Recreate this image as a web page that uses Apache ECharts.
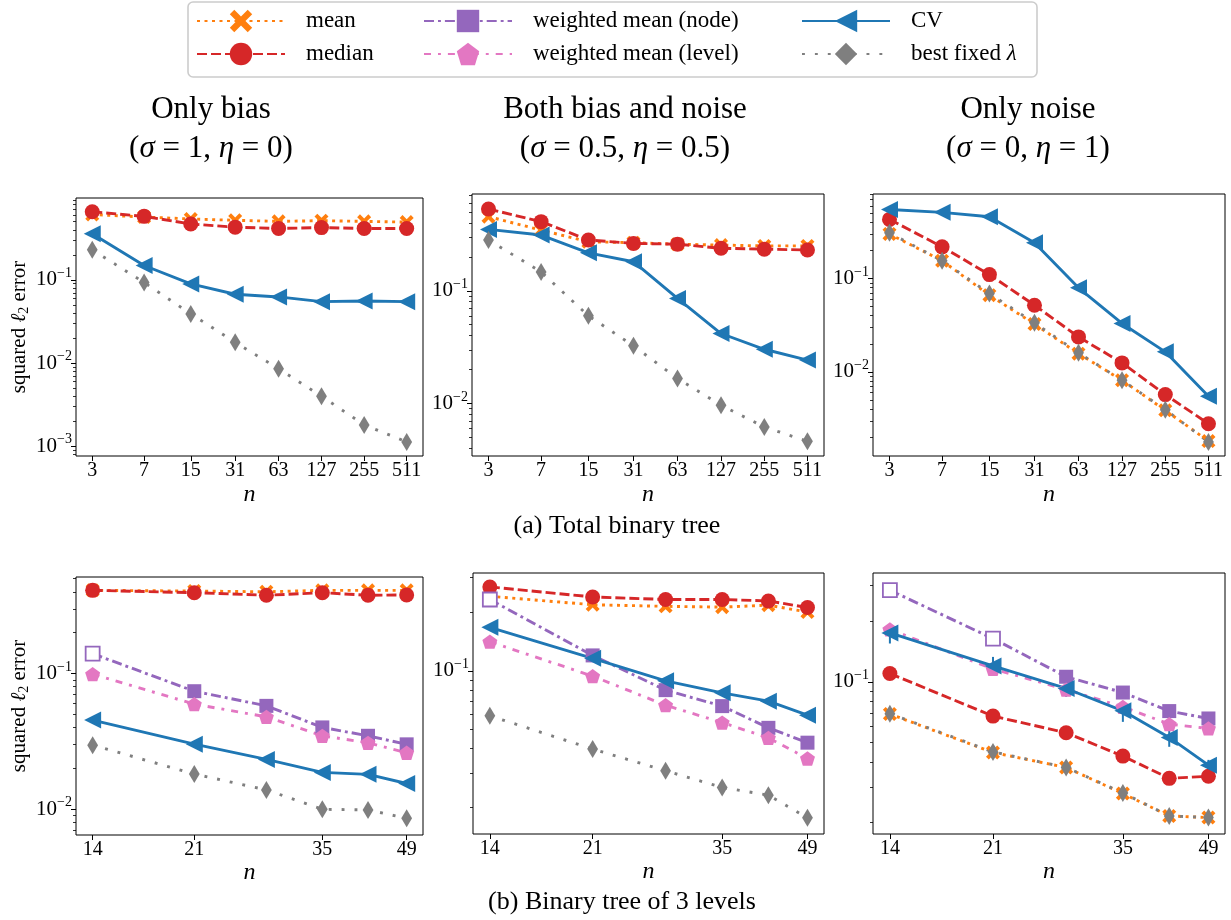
<!DOCTYPE html>
<html><head><meta charset="utf-8">
<script src="https://cdn.jsdelivr.net/npm/echarts@6/dist/echarts.min.js"></script>
<style>html,body{margin:0;padding:0;background:#fff}#c{width:1231px;height:920px}</style>
</head><body><div id="c"></div>
<script>
// ---------- data ----------
const nTop = [3, 7, 15, 31, 63, 127, 255, 511];
const nBottom = [14, 21, 28, 35, 42, 49];
const xTickLabelsTop = [3, 7, 15, 31, 63, 127, 255, 511];
const xTickLabelsBottom = [14, 21, 35, 49];

// (a) Total binary tree — only bias
const a1Mean   = [0.61, 0.57, 0.54, 0.52, 0.505, 0.515, 0.505, 0.495];
const a1Median = [0.66, 0.58, 0.47, 0.43, 0.415, 0.425, 0.415, 0.415];
const a1CV     = [0.358, 0.149, 0.0895, 0.0672, 0.0624, 0.0548, 0.0558, 0.0548];
const a1Best   = [0.23, 0.093, 0.039, 0.0178, 0.00855, 0.0040, 0.00181, 0.00113];
// (a) both bias and noise
const a2Mean   = [0.454, 0.345, 0.272, 0.267, 0.259, 0.254, 0.25, 0.25];
const a2Median = [0.531, 0.41, 0.282, 0.263, 0.259, 0.238, 0.234, 0.23];
const a2CV     = [0.35, 0.312, 0.217, 0.181, 0.0855, 0.0418, 0.0303, 0.0243];
const a2Best   = [0.282, 0.147, 0.06, 0.0325, 0.0167, 0.00967, 0.0062, 0.00463];
// (a) only noise
const a3Mean   = [0.299, 0.155, 0.0663, 0.0325, 0.0157, 0.00815, 0.00388, 0.00182];
const a3Median = [0.429, 0.218, 0.11, 0.0518, 0.0237, 0.0125, 0.00572, 0.00279];
const a3CV     = [0.548, 0.51, 0.458, 0.241, 0.0794, 0.033, 0.0164, 0.00548];
const a3Best   = [0.308, 0.155, 0.069, 0.0335, 0.016, 0.00815, 0.00395, 0.00178];

// (b) Binary tree of 3 levels — only bias
const b1Mean   = [0.41, 0.405, 0.40, 0.41, 0.41, 0.41];
const b1Median = [0.41, 0.394, 0.377, 0.394, 0.377, 0.379];
const b1Node   = [0.14, 0.0741, 0.0578, 0.0401, 0.0348, 0.0301];
const b1Level  = [0.0989, 0.0595, 0.048, 0.0348, 0.0309, 0.0261];
const b1CV     = [0.0454, 0.0302, 0.0233, 0.0187, 0.0181, 0.0155];
const b1Best   = [0.0297, 0.0182, 0.0139, 0.0100, 0.0099, 0.0086];
// (b) both
const b2Mean   = [0.241, 0.218, 0.214, 0.212, 0.217, 0.2];
const b2Median = [0.269, 0.239, 0.232, 0.232, 0.228, 0.211];
const b2Node   = [0.232, 0.120, 0.0797, 0.066, 0.0511, 0.0429];
const b2Level  = [0.141, 0.094, 0.0667, 0.0544, 0.0454, 0.0356];
const b2CV     = [0.167, 0.116, 0.0889, 0.0772, 0.07, 0.0593];
const b2Best   = [0.0589, 0.0398, 0.0308, 0.0253, 0.0231, 0.0177];
// (b) only noise
const b3Mean   = [0.0692, 0.0446, 0.0376, 0.0279, 0.0216, 0.0212];
const b3Median = [0.11, 0.0676, 0.0559, 0.0428, 0.0332, 0.034];
const b3Node   = [0.285, 0.164, 0.106, 0.0885, 0.0716, 0.0658];
const b3Level  = [0.182, 0.116, 0.0916, 0.0751, 0.0617, 0.0587];
const b3CV     = [0.175, 0.12, 0.0927, 0.0718, 0.053, 0.0386];
const b3Best   = [0.0695, 0.0449, 0.0376, 0.0281, 0.0216, 0.0212];
// CV error bars (only noise, 3 levels)
const b3CVLow  = [0.155, 0.108, 0.0843, 0.0633, 0.0476, 0.0365];
const b3CVHigh = [0.191, 0.133, 0.098, 0.078, 0.0576, 0.041];

// points of the node series drawn hollow
const b1NodeHollow = [0];
const b2NodeHollow = [0];
const b3NodeHollow = [0, 1];

const seriesNames = ['mean', 'median', 'weighted mean (node)', 'weighted mean (level)', 'CV', 'best fixed λ'];
const titleLines = [
  ['Only bias', ['1', '0']],
  ['Both bias and noise', ['0.5', '0.5']],
  ['Only noise', ['0', '1']]
];
const captionA = '(a) Total binary tree';
const captionB = '(b) Binary tree of 3 levels';

// ---------- styling ----------
const FONT = '"Liberation Serif", "DejaVu Serif", serif';
const X_PATH = 'path://M0,2 L2,0 L5,3 L8,0 L10,2 L7,5 L10,8 L8,10 L5,7 L2,10 L0,8 L3,5 Z';
const PENT = 'path://M5,0 L10,3.63 L8.09,9.51 L1.91,9.51 L0,3.63 Z';
const TRI = 'path://M0,5 L10,0 L10,10 Z';
const DIAM = 'path://M3,0 L6,5 L3,10 L0,5 Z';
const LW = 2.9;
const styles = {
  'mean': {color: '#ff7f0e', symbol: X_PATH, size: 14, dash: [3, 4.5]},
  'median': {color: '#d62728', symbol: 'circle', size: 15, dash: [10, 4]},
  'weighted mean (node)': {color: '#9467bd', symbol: 'rect', size: 14, dash: [10, 4, 2.9, 4]},
  'weighted mean (level)': {color: '#e377c2', symbol: PENT, size: 15, dash: [7, 7, 2.9, 7]},
  'CV': {color: '#1f77b4', symbol: TRI, size: 17, dash: 'solid'},
  'best fixed λ': {color: '#7f7f7f', symbol: DIAM, size: 18, dash: [2.9, 10]}
};

const panels = [
  {grid: {left: 76, top: 198, width: 347, height: 258}, xr: [2.3, 667], yr: [7.65e-4, 0.964], n: nTop, xt: xTickLabelsTop, ylab: true, nameGap: 27,
   s: {'mean': a1Mean, 'median': a1Median, 'CV': a1CV, 'best fixed λ': a1Best}},
  {grid: {left: 472, top: 194, width: 352, height: 262}, xr: [2.3, 667], yr: [0.00343, 0.721], n: nTop, xt: xTickLabelsTop, nameGap: 27,
   s: {'mean': a2Mean, 'median': a2Median, 'CV': a2CV, 'best fixed λ': a2Best}},
  {grid: {left: 873, top: 194, width: 352, height: 262}, xr: [2.3, 667], yr: [0.00126, 0.802], n: nTop, xt: xTickLabelsTop, nameGap: 27,
   s: {'mean': a3Mean, 'median': a3Median, 'CV': a3CV, 'best fixed λ': a3Best}},
  {grid: {left: 76, top: 577, width: 347, height: 258}, xr: [13.1, 52.3], yr: [0.00647, 0.514], n: nBottom, xt: xTickLabelsBottom, ylab: true, nameGap: 25, hollow: b1NodeHollow,
   s: {'mean': b1Mean, 'median': b1Median, 'weighted mean (node)': b1Node, 'weighted mean (level)': b1Level, 'CV': b1CV, 'best fixed λ': b1Best}},
  {grid: {left: 473, top: 573, width: 351, height: 261}, xr: [13.1, 52.3], yr: [0.01462, 0.317], n: nBottom, xt: xTickLabelsBottom, nameGap: 25, hollow: b2NodeHollow,
   s: {'mean': b2Mean, 'median': b2Median, 'weighted mean (node)': b2Node, 'weighted mean (level)': b2Level, 'CV': b2CV, 'best fixed λ': b2Best}},
  {grid: {left: 873, top: 573, width: 352, height: 261}, xr: [13.1, 52.3], yr: [0.01757, 0.347], n: nBottom, xt: xTickLabelsBottom, nameGap: 25, hollow: b3NodeHollow,
   err: [b3CVLow, b3CVHigh],
   s: {'mean': b3Mean, 'median': b3Median, 'weighted mean (node)': b3Node, 'weighted mean (level)': b3Level, 'CV': b3CV, 'best fixed λ': b3Best}}
];

const grids = [], xAxes = [], yAxes = [], series = [];
const lg = Math.log10;
panels.forEach((p, i) => {
  grids.push(Object.assign({show: true, borderColor: '#000', borderWidth: 1, backgroundColor: 'transparent', containLabel: false}, p.grid));
  // data axes (log scale)
  xAxes.push({type: 'log', gridIndex: i, position: 'bottom', min: p.xr[0], max: p.xr[1], show: false});
  const xt = p.xt.map(lg);
  xAxes.push({
    type: 'value', gridIndex: i, position: 'bottom', min: lg(p.xr[0]), max: lg(p.xr[1]),
    axisLine: {show: false}, splitLine: {show: false},
    axisTick: {show: true, customValues: xt, length: 5, lineStyle: {color: '#000', width: 1}},
    axisLabel: {show: true, customValues: xt, margin: 5, fontSize: 20, fontFamily: FONT, color: '#000',
      formatter: v => String(Math.round(Math.pow(10, v)))},
    name: 'n', nameLocation: 'middle', nameGap: p.nameGap,
    nameTextStyle: {fontFamily: FONT, fontStyle: 'italic', fontSize: 24, color: '#000'}
  });
  yAxes.push({type: 'log', gridIndex: i, position: 'left', min: p.yr[0], max: p.yr[1], show: false});
  const d0 = Math.ceil(lg(p.yr[0]) - 1e-9), d1 = Math.floor(lg(p.yr[1]) + 1e-9);
  const decades = [];
  for (let d = d0; d <= d1; d++) decades.push(d);
  const minors = [];
  for (let d = Math.floor(lg(p.yr[0])); d <= d1; d++) {
    for (let k = 2; k <= 9; k++) {
      const v = k * Math.pow(10, d);
      if (v >= p.yr[0] && v <= p.yr[1]) minors.push(lg(v));
    }
  }
  const major = {
    type: 'value', gridIndex: i, position: 'left', min: lg(p.yr[0]), max: lg(p.yr[1]),
    axisLine: {show: false}, splitLine: {show: false},
    axisTick: {show: true, customValues: decades, length: 5, lineStyle: {color: '#000', width: 1}},
    axisLabel: {show: true, customValues: decades, margin: 4,
      formatter: v => '{b|10}{s|−' + Math.round(-v) + '}',
      rich: {b: {fontSize: 21, fontFamily: FONT, color: '#000'},
             s: {fontSize: 14, fontFamily: FONT, color: '#000', padding: [0, 0, 13, 0]}}}
  };
  if (p.ylab) {
    Object.assign(major, {
      name: '{a|squared }{l|ℓ}{s|2}{a| error}', nameLocation: 'middle', nameGap: 45, nameRotate: 90,
      nameTextStyle: {color: '#000', rich: {
        a: {fontSize: 21, fontFamily: FONT, color: '#000'},
        l: {fontSize: 21, fontFamily: FONT, fontStyle: 'italic', color: '#000'},
        s: {fontSize: 14, fontFamily: FONT, color: '#000', padding: [10, 0, 0, 0]}}}
    });
  }
  yAxes.push(major);
  yAxes.push({
    type: 'value', gridIndex: i, position: 'left', min: lg(p.yr[0]), max: lg(p.yr[1]),
    axisLine: {show: false}, splitLine: {show: false},
    axisTick: {show: true, customValues: minors, length: 3, lineStyle: {color: '#000', width: 0.8}},
    axisLabel: {show: false}
  });
  seriesNames.forEach(name => {
    const vals = p.s[name];
    if (!vals) return;
    const st = styles[name];
    const hollow = (name === 'weighted mean (node)' && p.hollow) ? p.hollow : [];
    series.push({
      type: 'line', name, xAxisIndex: 2 * i, yAxisIndex: 3 * i,
      data: p.n.map((x, j) => hollow.indexOf(j) >= 0
        ? {value: [x, vals[j]], itemStyle: {color: '#fff', borderColor: st.color, borderWidth: 1.8}}
        : [x, vals[j]]),
      symbol: st.symbol, symbolSize: st.size, symbolKeepAspect: true, showSymbol: true,
      lineStyle: {color: st.color, width: LW, type: st.dash},
      itemStyle: {color: st.color, borderWidth: 0},
      emphasis: {disabled: true}, clip: false, animation: false
    });
    if (name === 'CV' && p.err) {
      series.push({
        type: 'custom', name: 'CV error', xAxisIndex: 2 * i, yAxisIndex: 3 * i, z: 3,
        data: p.n.map((x, j) => [x, p.err[0][j], p.err[1][j]]),
        renderItem: (params, api) => {
          const a = api.coord([api.value(0), api.value(1)]);
          const b = api.coord([api.value(0), api.value(2)]);
          return {type: 'line', shape: {x1: a[0], y1: a[1], x2: b[0], y2: b[1]}, style: {stroke: styles['CV'].color, lineWidth: 2}};
        },
        silent: true, animation: false
      });
    }
  });
});

const legendBase = {
  orient: 'vertical', top: 7, itemWidth: 88, itemHeight: 28, itemGap: 5, padding: 0, selectedMode: false, z: 10,
  textStyle: {fontFamily: FONT, fontSize: 23, color: '#000', lineHeight: 28, padding: [0, 0, 0, 16],
    rich: {i: {fontFamily: FONT, fontSize: 23, fontStyle: 'italic', color: '#000'}}},
  formatter: name => name.replace('λ', '{i|λ}')
};
const legends = [
  Object.assign({}, legendBase, {left: 196, data: [seriesNames[0], seriesNames[1]]}),
  Object.assign({}, legendBase, {left: 423, data: [seriesNames[2], seriesNames[3]]}),
  Object.assign({}, legendBase, {left: 801, data: [seriesNames[4], seriesNames[5]]})
];

const titleX = [211, 625, 1028];
const graphics = [
  {type: 'rect', z: 1, shape: {x: 188, y: 2, width: 849, height: 75, r: 5}, style: {fill: '#fff', stroke: '#cccccc', lineWidth: 1.6}}
];
titleLines.forEach((t, k) => {
  graphics.push({type: 'text', x: titleX[k], y: 110, z: 5,
    style: {text: t[0], font: '31px ' + FONT, fill: '#000', align: 'center', verticalAlign: 'middle', textAlign: 'center', textVerticalAlign: 'middle'}});
  graphics.push({type: 'text', x: titleX[k], y: 149, z: 5,
    style: {text: '{n|(}{i|σ}{n| = ' + t[1][0] + ', }{i|η}{n| = ' + t[1][1] + ')}',
      fill: '#000', align: 'center', verticalAlign: 'middle', textAlign: 'center', textVerticalAlign: 'middle',
      rich: {n: {fontSize: 31, fontFamily: FONT, fill: '#000', color: '#000'},
             i: {fontSize: 31, fontFamily: FONT, fontStyle: 'italic', fill: '#000', color: '#000'}}}});
});
graphics.push({type: 'text', x: 617, y: 526, z: 5,
  style: {text: captionA, font: '26px ' + FONT, fill: '#000', align: 'center', verticalAlign: 'middle', textAlign: 'center', textVerticalAlign: 'middle'}});
graphics.push({type: 'text', x: 622, y: 902, z: 5,
  style: {text: captionB, font: '26px ' + FONT, fill: '#000', align: 'center', verticalAlign: 'middle', textAlign: 'center', textVerticalAlign: 'middle'}});

const chart = echarts.init(document.getElementById('c'), null, {renderer: 'canvas'});
chart.setOption({
  animation: false,
  backgroundColor: '#fff',
  grid: grids, xAxis: xAxes, yAxis: yAxes, series,
  legend: legends,
  graphic: graphics
});
</script></body></html>
